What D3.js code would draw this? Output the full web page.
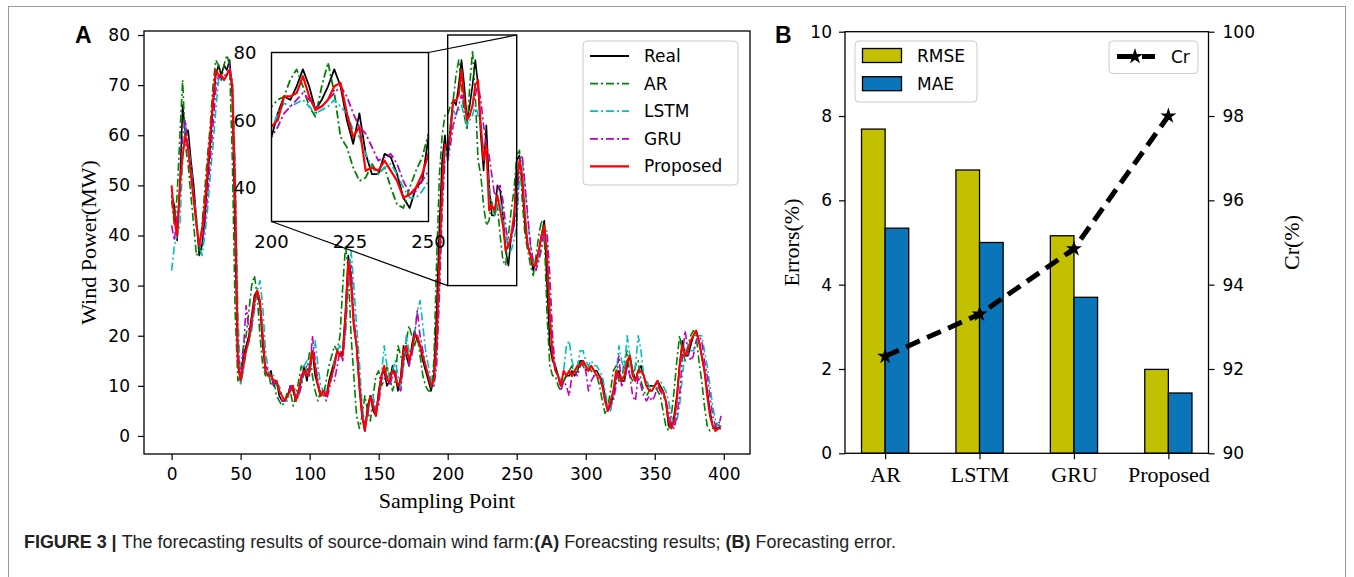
<!DOCTYPE html>
<html><head><meta charset="utf-8">
<script src="https://cdn.jsdelivr.net/npm/d3@7"></script>
<style>body{margin:0;background:#fff}svg{display:block}</style>
</head><body>
<svg id="c" width="1354" height="577"></svg>
<script>
// ---------- DATA ----------
const sampleStep = 2; // values read every 2 sampling points (0,2,...,398)
const real = [48,46,39,50,66,60,61,55,50,43,36,38,43,51,58,66,72,74,72,74,73,75,68,40,14,
 11,16,18,20,24,28,29,26,18,13,12,13,10,11,8,7,7,8,10,9,7,9,11,14,11,
 14,17,12,10,8,9,8,11,13,15,17,16,17,25,36,32,22,18,10,4,1,6,8,5,4,
 9,12,13,10,11,14,12,9,12,18,16,14,18,21,19,18,15,13,11,9,12,25,42,55,60,
 55,62,67,66,70,75,70,63,66,70,75,70,60,53,62,50,44,44,50,49,44,37,34,40,42,
 55,56,50,42,38,36,33,35,37,40,43,30,18,15,14,12,10,11,12,12,13,12,13,15,15,
 14,13,14,13,13,12,11,8,5,6,8,12,13,11,11,14,16,13,11,13,14,12,10,10,10,
 10,11,10,9,7,2,2,4,8,14,19,16,16,18,20,21,19,16,13,9,5,2,1.5,1.5,2];
const ar = [47,42,48,60,71,58,54,48,42,36,37,42,49,56,62,70,75,74,71,74,76,74,55,25,11,
 13,18,20,25,30,32,28,20,14,12,13,10,11,8,7,6,7,9,9,6,8,11,14,12,13,
 17,12,9,7,9,8,11,14,16,18,17,20,30,38,33,20,12,4,1.5,4,8,5,3,8,12,
 13,10,11,14,12,9,11,18,16,14,19,22,20,18,20,16,12,10,9,9,15,35,52,60,64,
 64,66,67,72,75,70,64,61,70,77,68,55,52,46,42,43,47,44,46,40,35,34,40,45,49,
 56,57,47,40,37,34,32,36,40,43,40,24,14,12,12,10,9,11,12,13,14,12,13,15,14,
 13,14,13,12,12,10,7,4.5,6,9,13,14,11,11,15,17,12,11,14,15,11,9,8,9,10,
 10,9,8,5,2,1,4,9,15,20,17,15,18,20,21,20,15,11,6,2,1,1.5,2,3,2];
const lstm = [33,38,40,42,55,62,58,54,48,44,38,36,40,45,52,58,65,71,72,71,72,73,71,55,25,
 10,13,17,19,21,25,29,31,26,17,13,12,12,10,10,8,7,7,9,10,9,8,10,14,15,
 13,16,19,14,10,9,9,10,12,15,17,18,17,20,30,37,30,22,15,6,2,4,8,8,5,
 7,12,18,14,11,13,15,12,10,14,20,17,16,20,25,27,22,17,14,11,10,16,30,46,56,
 57,62,65,64,65,66,64,62,63,64,66,64,62,57,55,50,46,44,46,47,44,40,37,37,39,
 42,52,55,50,43,38,35,34,35,37,40,41,30,18,13,12,11,13,18,19,15,13,14,17,17,
 15,14,15,14,14,13,12,9,6,5,8,12,18,15,13,20,16,12,14,20,17,12,11,10,9,
 10,11,11,10,9,7,4,2,3,6,12,17,18,17,17,19,20,20,17,14,10,6,3,2,2];
const gru = [42,39,44,48,60,63,58,53,48,42,38,38,42,48,55,62,69,72,71,72,72,74,70,45,18,
 11,17,26,21,22,26,29,27,20,14,13,12,10,11,9,7,7,8,10,10,7,8,10,13,14,
 12,20,15,11,8,9,7,9,12,11,14,17,15,22,33,34,24,18,11,5,2,4,8,7,5,
 6,11,13,12,10,12,13,10,9,15,18,14,16,20,25,20,17,14,12,10,10,14,28,45,55,
 55,58,62,64,66,68,66,64,64,66,68,70,67,62,58,56,52,48,49,50,47,42,38,39,42,
 45,54,56,50,44,38,35,33,35,38,41,40,32,20,13,12,9,11,10,8,12,13,12,14,15,
 13,9,11,12,12,11,10,7,5,6,7,10,16,10,11,14,12,8,7,12,10,8,7,8,7,
 8,10,9,8,7,5,2,1.5,4,8,16,21,17,15,16,19,20,19,15,12,8,4,2,1.5,4];
const proposed = [50,43,40,50,56,60,57,52,47,42,38,41,46,53,60,67,73,72,72,71,72,73,70,50,15,
 11,14,17,19,23,27,29,27,20,13,12,12,11,11,9,8,7,8,9,10,7,9,12,13,12,
 13,17,14,10,8,9,8,10,12,14,17,16,16,24,35,30,22,18,10,4,1,5,8,6,4,
 8,12,14,11,11,13,12,10,11,17,18,15,17,20,20,18,16,14,12,10,11,19,35,50,58,
 58,60,67,67,68,73,67,63,64,66,70,71,62,55,58,45,46,45,48,45,42,37,38,40,44,
 50,55,52,44,38,36,34,34,37,40,42,36,24,16,13,12,10,13,12,13,12,13,14,14,15,
 14,13,14,13,12,12,10,7,5,7,9,13,12,11,12,15,16,12,11,13,13,12,10,9,9,
 10,11,9,9,7,3,1.5,3,7,14,18,16,17,19,20,21,19,16,13,8,4,2,1,1.5,1.5];
const seriesNames = ["Real","AR","LSTM","GRU","Proposed"];
const xTicksA = [0,50,100,150,200,250,300,350,400];
const yTicksA = [0,10,20,30,40,50,60,70,80];
const insetXTicks = [200,225,250];
const insetYTicks = [40,60,80];
const zoomRange = [200,250];
const zoomValues = [30,80];

const models = ["AR","LSTM","GRU","Proposed"];
const rmse = [7.69,6.72,5.16,1.99];
const mae = [5.34,5.00,3.70,1.43];
const cr = [92.3,93.3,94.85,98.0];
const errTicks = [0,2,4,6,8,10];
const crTicks = [90,92,94,96,98,100];

// ---------- STYLE ----------
const sans = "DejaVu Sans";
const serif = "Liberation Serif";
const styles = {
  Real:{color:"#000000", w:1.6, dash:null},
  AR:{color:"#008000", w:1.6, dash:"8,3,2,3"},
  LSTM:{color:"#00bfbf", w:1.6, dash:"8,3,2,3"},
  GRU:{color:"#bf00bf", w:1.6, dash:"8,3,2,3"},
  Proposed:{color:"#ff0000", w:2, dash:null}
};
const dataBy = {Real:real, AR:ar, LSTM:lstm, GRU:gru, Proposed:proposed};
const plotOrder = ["Real","AR","LSTM","GRU","Proposed"];

const svg = d3.select("#c");
svg.append("rect").attr("x",8.5).attr("y",6.5).attr("width",1337).attr("height",700)
  .attr("fill","none").attr("stroke","#9a9a9a").attr("stroke-width",1);

const defs = svg.append("defs");

// ---------- PANEL A ----------
const xA = d3.scaleLinear().domain([-20,419]).range([144,750]);
const yA = d3.scaleLinear().domain([-3.6,80.8]).range([454,31]);
defs.append("clipPath").attr("id","clipA").append("rect")
  .attr("x",144).attr("y",31).attr("width",606).attr("height",423);

const gA = svg.append("g");
const lineA = d3.line().x((d,i)=>xA(i*sampleStep)).y(d=>yA(d));
const linesA = gA.append("g").attr("clip-path","url(#clipA)");
plotOrder.forEach(n=>{
  const s = styles[n];
  linesA.append("path").datum(dataBy[n]).attr("d",lineA)
    .attr("fill","none").attr("stroke",s.color).attr("stroke-width",s.w)
    .attr("stroke-dasharray",s.dash).attr("stroke-linejoin","round");
});

function styleAxis(g, font, size){
  g.select(".domain").remove();
  g.selectAll(".tick line").attr("stroke","#000").attr("stroke-width",1.2);
  g.selectAll(".tick text").attr("font-family",font).attr("font-size",size).attr("fill","#000");
}
const axL = gA.append("g").attr("transform","translate(144,0)")
  .call(d3.axisLeft(yA).tickValues(yTicksA).tickSize(6).tickPadding(8));
styleAxis(axL, sans, 17);
const axBtm = gA.append("g").attr("transform","translate(0,454)")
  .call(d3.axisBottom(xA).tickValues(xTicksA).tickSize(6).tickPadding(7.5));
styleAxis(axBtm, sans, 17);

gA.append("rect").attr("x",144).attr("y",31).attr("width",606).attr("height",423)
  .attr("fill","none").attr("stroke","#000").attr("stroke-width",1.3);

gA.append("text").attr("transform","translate(88,242.5) rotate(-90)")
  .attr("text-anchor","middle").attr("dominant-baseline","central")
  .attr("font-family",serif).attr("font-size",22).text("Wind Power(MW)");
gA.append("text").attr("x",447).attr("y",508).attr("text-anchor","middle")
  .attr("font-family",serif).attr("font-size",22).text("Sampling Point");
svg.append("text").attr("x",75).attr("y",43).attr("font-family","Liberation Sans")
  .attr("font-weight","bold").attr("font-size",23).text("A");

// zoom rectangle + connectors
const xI = d3.scaleLinear().domain(zoomRange).range([271.5,428.5]);
const yI = d3.scaleLinear().domain(zoomValues).range([221.5,52.5]);
gA.append("rect").attr("x",xA(zoomRange[0])).attr("y",yA(zoomValues[1]))
  .attr("width",xA(zoomRange[1])-xA(zoomRange[0])).attr("height",yA(zoomValues[0])-yA(zoomValues[1]))
  .attr("fill","none").attr("stroke","#000").attr("stroke-width",1.4);
gA.append("line").attr("x1",xI(zoomRange[1])).attr("y1",yI(zoomValues[1]))
  .attr("x2",xA(zoomRange[1])).attr("y2",yA(zoomValues[1])).attr("stroke","#000").attr("stroke-width",1.2);
gA.append("line").attr("x1",xI(zoomRange[0])).attr("y1",yI(zoomValues[0]))
  .attr("x2",xA(zoomRange[0])).attr("y2",yA(zoomValues[0])).attr("stroke","#000").attr("stroke-width",1.2);

// inset
const gI = svg.append("g");
gI.append("rect").attr("x",271.5).attr("y",52.5).attr("width",157).attr("height",169).attr("fill","#fff");
defs.append("clipPath").attr("id","clipI").append("rect")
  .attr("x",271.5).attr("y",52.5).attr("width",157).attr("height",169);
const lineI = d3.line().defined((d,i)=>i*sampleStep>=198 && i*sampleStep<=252)
  .x((d,i)=>xI(i*sampleStep)).y(d=>yI(d));
const linesI = gI.append("g").attr("clip-path","url(#clipI)");
plotOrder.forEach(n=>{
  const s = styles[n];
  linesI.append("path").datum(dataBy[n]).attr("d",lineI)
    .attr("fill","none").attr("stroke",s.color).attr("stroke-width",s.w+0.2)
    .attr("stroke-dasharray",s.dash).attr("stroke-linejoin","round");
});
gI.append("rect").attr("x",271.5).attr("y",52.5).attr("width",157).attr("height",169)
  .attr("fill","none").attr("stroke","#000").attr("stroke-width",1.4);

// legend A
const lgA = svg.append("g");
lgA.append("rect").attr("x",583).attr("y",41).attr("width",155).attr("height",144).attr("rx",4)
  .attr("fill","#fff").attr("fill-opacity",0.85).attr("stroke","#cccccc");
seriesNames.forEach((n,k)=>{
  const s = styles[n], y = 56 + k*27.6;
  lgA.append("line").attr("x1",590).attr("x2",629).attr("y1",y).attr("y2",y)
    .attr("stroke",s.color).attr("stroke-width",s.w+0.2).attr("stroke-dasharray",s.dash);
  lgA.append("text").attr("x",644).attr("y",y).attr("dominant-baseline","central")
    .attr("font-family",sans).attr("font-size",17).text(n);
});

// ---------- PANEL B ----------
const xB = d3.scaleLinear().domain([-0.425,3.425]).range([845,1208.5]);
const yB = d3.scaleLinear().domain([0,10]).range([453.3,31.7]);
const yB2 = d3.scaleLinear().domain([90,100]).range([453.3,31.7]);
const gB = svg.append("g");
const barW = 0.25;
const cY = "#c2c000", cB = "#0b75b9";
models.forEach((m,i)=>{
  gB.append("rect").attr("x",xB(i-barW)).attr("width",xB(i)-xB(i-barW))
    .attr("y",yB(rmse[i])).attr("height",yB(0)-yB(rmse[i]))
    .attr("fill",cY).attr("stroke","#000").attr("stroke-width",1.3);
  gB.append("rect").attr("x",xB(i)).attr("width",xB(i+barW)-xB(i))
    .attr("y",yB(mae[i])).attr("height",yB(0)-yB(mae[i]))
    .attr("fill",cB).attr("stroke","#000").attr("stroke-width",1.3);
});
const bL = gB.append("g").attr("transform","translate(845,0)")
  .call(d3.axisLeft(yB).tickValues(errTicks).tickSize(6).tickPadding(7));
styleAxis(bL, sans, 17);
const bR = gB.append("g").attr("transform","translate(1208.5,0)")
  .call(d3.axisRight(yB2).tickValues(crTicks).tickSize(6).tickPadding(8));
styleAxis(bR, sans, 17);
const bB = gB.append("g").attr("transform","translate(0,453.3)")
  .call(d3.axisBottom(xB).tickValues(d3.range(models.length)).tickFormat(i=>models[i]).tickSize(6).tickPadding(7));
styleAxis(bB, serif, 22);
gB.append("rect").attr("x",845).attr("y",31.7).attr("width",363.5).attr("height",421.6)
  .attr("fill","none").attr("stroke","#000").attr("stroke-width",1.3);

// Cr line
const crLine = d3.line().x((d,i)=>xB(i)).y(d=>yB2(d));
gB.append("path").datum(cr).attr("d",crLine).attr("fill","none")
  .attr("stroke","#000").attr("stroke-width",5).attr("stroke-dasharray","15,8");
const star = d3.symbol().type(d3.symbolStar).size(80);
cr.forEach((v,i)=>{
  gB.append("path").attr("d",star()).attr("transform",`translate(${xB(i)},${yB2(v)})`).attr("fill","#000");
});

gB.append("text").attr("transform","translate(791,242.5) rotate(-90)")
  .attr("text-anchor","middle").attr("dominant-baseline","central")
  .attr("font-family",serif).attr("font-size",22).text("Errors(%)");
gB.append("text").attr("transform","translate(1291,242.5) rotate(-90)")
  .attr("text-anchor","middle").attr("dominant-baseline","central")
  .attr("font-family",serif).attr("font-size",22).text("Cr(%)");
svg.append("text").attr("x",775).attr("y",43).attr("font-family","Liberation Sans")
  .attr("font-weight","bold").attr("font-size",23).text("B");

// legend B (bars)
const lgB = svg.append("g");
lgB.append("rect").attr("x",855).attr("y",41).attr("width",122).attr("height",61).attr("rx",4)
  .attr("fill","#fff").attr("fill-opacity",0.85).attr("stroke","#cccccc");
[["RMSE",cY,55.5],["MAE",cB,83.7]].forEach(([t,c,y])=>{
  lgB.append("rect").attr("x",862.5).attr("y",y-7).attr("width",39).attr("height",14)
    .attr("fill",c).attr("stroke","#000").attr("stroke-width",1.3);
  lgB.append("text").attr("x",917).attr("y",y).attr("dominant-baseline","central")
    .attr("font-family",sans).attr("font-size",17).text(t);
});
// legend B (Cr)
const lgC = svg.append("g");
lgC.append("rect").attr("x",1109).attr("y",41).attr("width",89).attr("height",32.5).attr("rx",4)
  .attr("fill","#fff").attr("fill-opacity",0.85).attr("stroke","#cccccc");
lgC.append("line").attr("x1",1117).attr("x2",1155).attr("y1",56.5).attr("y2",56.5)
  .attr("stroke","#000").attr("stroke-width",5).attr("stroke-dasharray","17,8");
lgC.append("path").attr("d",star()).attr("transform","translate(1135,56.5)").attr("fill","#000");
lgC.append("text").attr("x",1171).attr("y",56.5).attr("dominant-baseline","central")
  .attr("font-family",sans).attr("font-size",17).text("Cr");

// inset tick labels (drawn last so nothing covers them)
const gIL = svg.append("g").attr("font-family",sans).attr("font-size",18).attr("fill","#000");
insetYTicks.forEach(v=>{
  gIL.append("text").attr("x",256.5).attr("y",yI(v)).attr("text-anchor","end")
    .attr("dominant-baseline","central").text(v);
});
insetXTicks.forEach(v=>{
  gIL.append("text").attr("x",xI(v)).attr("y",248).attr("text-anchor","middle").text(v);
});

// ---------- CAPTION ----------
const capParts = [["FIGURE 3 | ",true],["The forecasting results of source-domain wind farm:",false],["(A)",true],
 [" Foreacsting results; ",false],["(B)",true],[" Forecasting error.",false]];
const capG = svg.append("g");
let cx = 0;
const capTexts = capParts.map(([t,b])=>{
  const el = capG.append("text").attr("x",cx).attr("y",0).attr("xml:space","preserve")
    .style("white-space","pre")
    .attr("font-family","'Liberation Sans Narrow','Liberation Sans',Arial,sans-serif")
    .attr("font-size",18).attr("fill","#222").attr("font-weight",b?"bold":"normal").text(t);
  cx += el.node().getComputedTextLength();
  return el;
});
const capScale = 872 / cx;
capG.attr("transform",`translate(24,548) scale(${capScale},1)`);
</script>
</body></html>
